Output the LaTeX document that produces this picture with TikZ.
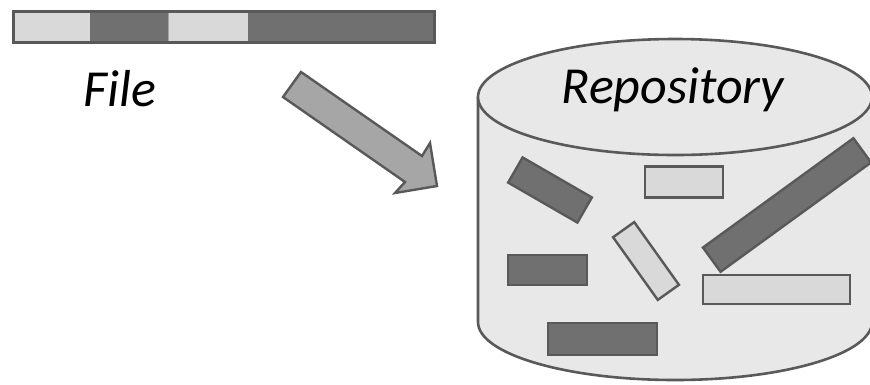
\documentclass[tikz,border=0pt]{standalone}
\usepackage{fontspec}
\setmainfont{Carlito}

\definecolor{edgegray}{HTML}{595959}
\definecolor{darkpart}{HTML}{707070}
\definecolor{lightpart}{HTML}{D9D9D9}
\definecolor{arrowgray}{HTML}{A6A6A6}
\definecolor{repofill}{HTML}{E8E8E8}

\begin{document}
\begin{tikzpicture}[x=1pt, y=-1pt,
    darkbox/.style={draw=edgegray, fill=darkpart, line width=2.4pt, inner sep=0pt},
    lightbox/.style={draw=edgegray, fill=lightpart, line width=2.4pt, inner sep=0pt},
    bigtext/.style={font=\fontsize{52}{56}\selectfont\itshape, anchor=base}]
        \useasboundingbox (0,0) rectangle (870,384);

        % Draw the file
        \draw[fill=lightpart, draw=gray!70, line width=1pt] (13,11) rectangle (90,42);
        \draw[fill=darkpart, draw=darkpart, line width=1pt] (90,11) rectangle (168,42);
        \draw[fill=lightpart, draw=gray!70, line width=1pt] (168,11) rectangle (248,42);
        \draw[fill=darkpart, draw=darkpart, line width=1pt] (248,11) rectangle (434,42);
        \draw[edgegray, line width=3pt] (13,11) rectangle (434,42);

        \node[bigtext] (file) at (120,106) {File};

        % Draw the arrow
        \draw[draw=edgegray, fill=arrowgray, line width=2.4pt, line join=miter]
            (301,72) -- (422,156) -- (430,143) -- (437,186) -- (395,193) -- (405,182) -- (283,97) -- cycle;

        % Draw the repository
        \draw[draw=edgegray, fill=repofill, line width=2.6pt]
            (478,97) -- (478,322) arc[start angle=180, end angle=0, x radius=197, y radius=58] -- (872,97);
        \draw[draw=edgegray, fill=repofill, line width=2.6pt] (675,97) ellipse [x radius=197, y radius=58];

        \node[bigtext] (repo) at (673,103) {Repository};

        % Blocks inside the repository
        \node[darkbox, minimum width=80pt, minimum height=29pt, rotate=-30] (blockA) at (550,190) {};
        \node[lightbox, minimum width=78pt, minimum height=31pt] (blockB) at (684,182) {};
        \node[lightbox, minimum width=77pt, minimum height=26pt, rotate=-54.5] (blockC) at (646,261) {};
        \node[darkbox, minimum width=186pt, minimum height=30pt, rotate=36] (blockD) at (787,205) {};
        \node[darkbox, minimum width=79pt, minimum height=30pt] (blockE) at (547.5,270) {};
        \node[lightbox, minimum width=147pt, minimum height=29pt] (blockF) at (776.5,289.5) {};
        \node[darkbox, minimum width=109pt, minimum height=32pt] (blockG) at (602.5,339) {};
    \end{tikzpicture}
\end{document}
